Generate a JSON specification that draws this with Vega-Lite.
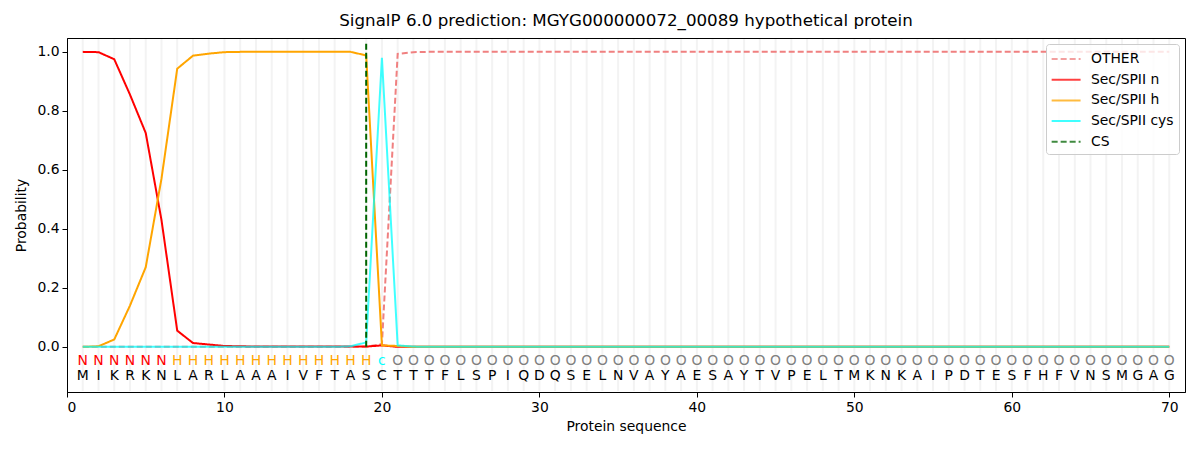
{
  "$schema": "https://vega.github.io/schema/vega-lite/v6.json",
  "width": 1118,
  "height": 354,
  "autosize": "none",
  "padding": {"left": 67, "top": 38, "right": 15, "bottom": 58},
  "config": {
    "font": "DejaVu Sans",
    "view": {"stroke": "black", "strokeWidth": 1},
    "axis": {
      "labelFont": "DejaVu Sans", "labelFontSize": 13.9, "labelColor": "black",
      "titleFont": "DejaVu Sans", "titleFontSize": 13.9, "titleFontWeight": "normal", "titleColor": "black",
      "domainColor": "black", "tickColor": "black", "tickSize": 5, "grid": false
    }
  },
  "title": {
    "text": "SignalP 6.0 prediction: MGYG000000072_00089 hypothetical protein",
    "fontSize": 16.7, "fontWeight": "normal", "font": "DejaVu Sans", "color": "black", "offset": 7
  },
  "data": {
    "values": [
      {"pos": 1, "aa": "M", "state": "N", "OTHER": 0, "Sec/SPII n": 1.0, "Sec/SPII h": 0, "Sec/SPII cys": 0},
      {"pos": 2, "aa": "I", "state": "N", "OTHER": 0, "Sec/SPII n": 0.999, "Sec/SPII h": 0.002, "Sec/SPII cys": 0},
      {"pos": 3, "aa": "K", "state": "N", "OTHER": 0, "Sec/SPII n": 0.975, "Sec/SPII h": 0.025, "Sec/SPII cys": 0},
      {"pos": 4, "aa": "R", "state": "N", "OTHER": 0, "Sec/SPII n": 0.855, "Sec/SPII h": 0.14, "Sec/SPII cys": 0},
      {"pos": 5, "aa": "K", "state": "N", "OTHER": 0, "Sec/SPII n": 0.725, "Sec/SPII h": 0.27, "Sec/SPII cys": 0},
      {"pos": 6, "aa": "N", "state": "N", "OTHER": 0, "Sec/SPII n": 0.43, "Sec/SPII h": 0.57, "Sec/SPII cys": 0},
      {"pos": 7, "aa": "L", "state": "H", "OTHER": 0, "Sec/SPII n": 0.055, "Sec/SPII h": 0.943, "Sec/SPII cys": 0},
      {"pos": 8, "aa": "A", "state": "H", "OTHER": 0, "Sec/SPII n": 0.013, "Sec/SPII h": 0.987, "Sec/SPII cys": 0},
      {"pos": 9, "aa": "R", "state": "H", "OTHER": 0, "Sec/SPII n": 0.008, "Sec/SPII h": 0.994, "Sec/SPII cys": 0},
      {"pos": 10, "aa": "L", "state": "H", "OTHER": 0, "Sec/SPII n": 0.003, "Sec/SPII h": 0.999, "Sec/SPII cys": 0},
      {"pos": 11, "aa": "A", "state": "H", "OTHER": 0, "Sec/SPII n": 0.002, "Sec/SPII h": 1.0, "Sec/SPII cys": 0},
      {"pos": 12, "aa": "A", "state": "H", "OTHER": 0, "Sec/SPII n": 0.001, "Sec/SPII h": 1.0, "Sec/SPII cys": 0},
      {"pos": 13, "aa": "A", "state": "H", "OTHER": 0, "Sec/SPII n": 0.001, "Sec/SPII h": 1.0, "Sec/SPII cys": 0},
      {"pos": 14, "aa": "I", "state": "H", "OTHER": 0, "Sec/SPII n": 0.001, "Sec/SPII h": 1.0, "Sec/SPII cys": 0},
      {"pos": 15, "aa": "V", "state": "H", "OTHER": 0, "Sec/SPII n": 0.001, "Sec/SPII h": 1.0, "Sec/SPII cys": 0},
      {"pos": 16, "aa": "F", "state": "H", "OTHER": 0, "Sec/SPII n": 0.001, "Sec/SPII h": 1.0, "Sec/SPII cys": 0},
      {"pos": 17, "aa": "T", "state": "H", "OTHER": 0, "Sec/SPII n": 0.001, "Sec/SPII h": 1.0, "Sec/SPII cys": 0},
      {"pos": 18, "aa": "A", "state": "H", "OTHER": 0, "Sec/SPII n": 0.001, "Sec/SPII h": 1.0, "Sec/SPII cys": 0.002},
      {"pos": 19, "aa": "S", "state": "H", "OTHER": 0, "Sec/SPII n": 0.001, "Sec/SPII h": 0.988, "Sec/SPII cys": 0.015},
      {"pos": 20, "aa": "C", "state": "c", "OTHER": 0.01, "Sec/SPII n": 0.005, "Sec/SPII h": 0.005, "Sec/SPII cys": 0.98},
      {"pos": 21, "aa": "T", "state": "O", "OTHER": 0.993, "Sec/SPII n": 0, "Sec/SPII h": 0.003, "Sec/SPII cys": 0.005},
      {"pos": 22, "aa": "T", "state": "O", "OTHER": 0.999, "Sec/SPII n": 0, "Sec/SPII h": 0, "Sec/SPII cys": 0.001},
      {"pos": 23, "aa": "T", "state": "O", "OTHER": 1.0, "Sec/SPII n": 0, "Sec/SPII h": 0, "Sec/SPII cys": 0},
      {"pos": 24, "aa": "F", "state": "O", "OTHER": 1.0, "Sec/SPII n": 0, "Sec/SPII h": 0, "Sec/SPII cys": 0},
      {"pos": 25, "aa": "L", "state": "O", "OTHER": 1.0, "Sec/SPII n": 0, "Sec/SPII h": 0, "Sec/SPII cys": 0},
      {"pos": 26, "aa": "S", "state": "O", "OTHER": 1.0, "Sec/SPII n": 0, "Sec/SPII h": 0, "Sec/SPII cys": 0},
      {"pos": 27, "aa": "P", "state": "O", "OTHER": 1.0, "Sec/SPII n": 0, "Sec/SPII h": 0, "Sec/SPII cys": 0},
      {"pos": 28, "aa": "I", "state": "O", "OTHER": 1.0, "Sec/SPII n": 0, "Sec/SPII h": 0, "Sec/SPII cys": 0},
      {"pos": 29, "aa": "Q", "state": "O", "OTHER": 1.0, "Sec/SPII n": 0, "Sec/SPII h": 0, "Sec/SPII cys": 0},
      {"pos": 30, "aa": "D", "state": "O", "OTHER": 1.0, "Sec/SPII n": 0, "Sec/SPII h": 0, "Sec/SPII cys": 0},
      {"pos": 31, "aa": "Q", "state": "O", "OTHER": 1.0, "Sec/SPII n": 0, "Sec/SPII h": 0, "Sec/SPII cys": 0},
      {"pos": 32, "aa": "S", "state": "O", "OTHER": 1.0, "Sec/SPII n": 0, "Sec/SPII h": 0, "Sec/SPII cys": 0},
      {"pos": 33, "aa": "E", "state": "O", "OTHER": 1.0, "Sec/SPII n": 0, "Sec/SPII h": 0, "Sec/SPII cys": 0},
      {"pos": 34, "aa": "L", "state": "O", "OTHER": 1.0, "Sec/SPII n": 0, "Sec/SPII h": 0, "Sec/SPII cys": 0},
      {"pos": 35, "aa": "N", "state": "O", "OTHER": 1.0, "Sec/SPII n": 0, "Sec/SPII h": 0, "Sec/SPII cys": 0},
      {"pos": 36, "aa": "V", "state": "O", "OTHER": 1.0, "Sec/SPII n": 0, "Sec/SPII h": 0, "Sec/SPII cys": 0},
      {"pos": 37, "aa": "A", "state": "O", "OTHER": 1.0, "Sec/SPII n": 0, "Sec/SPII h": 0, "Sec/SPII cys": 0},
      {"pos": 38, "aa": "Y", "state": "O", "OTHER": 1.0, "Sec/SPII n": 0, "Sec/SPII h": 0, "Sec/SPII cys": 0},
      {"pos": 39, "aa": "A", "state": "O", "OTHER": 1.0, "Sec/SPII n": 0, "Sec/SPII h": 0, "Sec/SPII cys": 0},
      {"pos": 40, "aa": "E", "state": "O", "OTHER": 1.0, "Sec/SPII n": 0, "Sec/SPII h": 0, "Sec/SPII cys": 0},
      {"pos": 41, "aa": "S", "state": "O", "OTHER": 1.0, "Sec/SPII n": 0, "Sec/SPII h": 0, "Sec/SPII cys": 0},
      {"pos": 42, "aa": "A", "state": "O", "OTHER": 1.0, "Sec/SPII n": 0, "Sec/SPII h": 0, "Sec/SPII cys": 0},
      {"pos": 43, "aa": "Y", "state": "O", "OTHER": 1.0, "Sec/SPII n": 0, "Sec/SPII h": 0, "Sec/SPII cys": 0},
      {"pos": 44, "aa": "T", "state": "O", "OTHER": 1.0, "Sec/SPII n": 0, "Sec/SPII h": 0, "Sec/SPII cys": 0},
      {"pos": 45, "aa": "V", "state": "O", "OTHER": 1.0, "Sec/SPII n": 0, "Sec/SPII h": 0, "Sec/SPII cys": 0},
      {"pos": 46, "aa": "P", "state": "O", "OTHER": 1.0, "Sec/SPII n": 0, "Sec/SPII h": 0, "Sec/SPII cys": 0},
      {"pos": 47, "aa": "E", "state": "O", "OTHER": 1.0, "Sec/SPII n": 0, "Sec/SPII h": 0, "Sec/SPII cys": 0},
      {"pos": 48, "aa": "L", "state": "O", "OTHER": 1.0, "Sec/SPII n": 0, "Sec/SPII h": 0, "Sec/SPII cys": 0},
      {"pos": 49, "aa": "T", "state": "O", "OTHER": 1.0, "Sec/SPII n": 0, "Sec/SPII h": 0, "Sec/SPII cys": 0},
      {"pos": 50, "aa": "M", "state": "O", "OTHER": 1.0, "Sec/SPII n": 0, "Sec/SPII h": 0, "Sec/SPII cys": 0},
      {"pos": 51, "aa": "K", "state": "O", "OTHER": 1.0, "Sec/SPII n": 0, "Sec/SPII h": 0, "Sec/SPII cys": 0},
      {"pos": 52, "aa": "N", "state": "O", "OTHER": 1.0, "Sec/SPII n": 0, "Sec/SPII h": 0, "Sec/SPII cys": 0},
      {"pos": 53, "aa": "K", "state": "O", "OTHER": 1.0, "Sec/SPII n": 0, "Sec/SPII h": 0, "Sec/SPII cys": 0},
      {"pos": 54, "aa": "A", "state": "O", "OTHER": 1.0, "Sec/SPII n": 0, "Sec/SPII h": 0, "Sec/SPII cys": 0},
      {"pos": 55, "aa": "I", "state": "O", "OTHER": 1.0, "Sec/SPII n": 0, "Sec/SPII h": 0, "Sec/SPII cys": 0},
      {"pos": 56, "aa": "P", "state": "O", "OTHER": 1.0, "Sec/SPII n": 0, "Sec/SPII h": 0, "Sec/SPII cys": 0},
      {"pos": 57, "aa": "D", "state": "O", "OTHER": 1.0, "Sec/SPII n": 0, "Sec/SPII h": 0, "Sec/SPII cys": 0},
      {"pos": 58, "aa": "T", "state": "O", "OTHER": 1.0, "Sec/SPII n": 0, "Sec/SPII h": 0, "Sec/SPII cys": 0},
      {"pos": 59, "aa": "E", "state": "O", "OTHER": 1.0, "Sec/SPII n": 0, "Sec/SPII h": 0, "Sec/SPII cys": 0},
      {"pos": 60, "aa": "S", "state": "O", "OTHER": 1.0, "Sec/SPII n": 0, "Sec/SPII h": 0, "Sec/SPII cys": 0},
      {"pos": 61, "aa": "F", "state": "O", "OTHER": 1.0, "Sec/SPII n": 0, "Sec/SPII h": 0, "Sec/SPII cys": 0},
      {"pos": 62, "aa": "H", "state": "O", "OTHER": 1.0, "Sec/SPII n": 0, "Sec/SPII h": 0, "Sec/SPII cys": 0},
      {"pos": 63, "aa": "F", "state": "O", "OTHER": 1.0, "Sec/SPII n": 0, "Sec/SPII h": 0, "Sec/SPII cys": 0},
      {"pos": 64, "aa": "V", "state": "O", "OTHER": 1.0, "Sec/SPII n": 0, "Sec/SPII h": 0, "Sec/SPII cys": 0},
      {"pos": 65, "aa": "N", "state": "O", "OTHER": 1.0, "Sec/SPII n": 0, "Sec/SPII h": 0, "Sec/SPII cys": 0},
      {"pos": 66, "aa": "S", "state": "O", "OTHER": 1.0, "Sec/SPII n": 0, "Sec/SPII h": 0, "Sec/SPII cys": 0},
      {"pos": 67, "aa": "M", "state": "O", "OTHER": 1.0, "Sec/SPII n": 0, "Sec/SPII h": 0, "Sec/SPII cys": 0},
      {"pos": 68, "aa": "G", "state": "O", "OTHER": 1.0, "Sec/SPII n": 0, "Sec/SPII h": 0, "Sec/SPII cys": 0},
      {"pos": 69, "aa": "A", "state": "O", "OTHER": 1.0, "Sec/SPII n": 0, "Sec/SPII h": 0, "Sec/SPII cys": 0},
      {"pos": 70, "aa": "G", "state": "O", "OTHER": 1.0, "Sec/SPII n": 0, "Sec/SPII h": 0, "Sec/SPII cys": 0}
    ]
  },
  "layer": [
    {
      "mark": {"type": "rule", "color": "#f3f3f3", "strokeWidth": 2},
      "encoding": {
        "x": {"field": "pos", "type": "quantitative", "scale": {"domain": [0, 71], "nice": false, "zero": false}},
        "y": {"datum": -0.15, "type": "quantitative", "scale": {"domain": [-0.153, 1.047], "nice": false, "zero": false}},
        "y2": {"datum": 1.044}
      }
    },
    {
      "transform": [
        {"fold": ["OTHER", "Sec/SPII n", "Sec/SPII h"], "as": ["series", "p"]}
      ],
      "mark": {"type": "line", "strokeWidth": 2},
      "encoding": {
        "x": {
          "field": "pos", "type": "quantitative",
          "scale": {"domain": [0, 71], "nice": false, "zero": false},
          "axis": {"values": [0, 10, 20, 30, 40, 50, 60, 70], "title": "Protein sequence", "titlePadding": 6, "labelPadding": 3}
        },
        "y": {
          "field": "p", "type": "quantitative",
          "scale": {"domain": [-0.153, 1.047], "nice": false, "zero": false},
          "axis": {"values": [0, 0.2, 0.4, 0.6, 0.8, 1.0], "format": ".1f", "title": "Probability", "titlePadding": 8, "labelPadding": 3}
        },
        "color": {
          "field": "series", "type": "nominal",
          "scale": {
            "domain": ["OTHER", "Sec/SPII n", "Sec/SPII h", "Sec/SPII cys", "CS"],
            "range": ["#f08080", "#ff0000", "#ffa500", "#00ffff", "#006400"]
          },
          "legend": {
            "title": null, "orient": "none", "legendX": 979, "legendY": 6,
            "symbolType": "M-1.08,0H2.26", "symbolSize": 300, "symbolStrokeWidth": 2, "symbolOpacity": 1,
            "labelFontSize": 13.9, "labelFont": "DejaVu Sans", "labelColor": "black",
            "rowPadding": 3.7, "padding": 5, "fillColor": "rgba(255,255,255,0.8)",
            "strokeColor": "#cccccc", "cornerRadius": 3, "labelOffset": 20
          }
        },
        "strokeDash": {
          "field": "series", "type": "nominal",
          "scale": {
            "domain": ["OTHER", "Sec/SPII n", "Sec/SPII h", "Sec/SPII cys", "CS"],
            "range": [[6, 3], [1, 0], [1, 0], [1, 0], [6, 3]]
          },
          "legend": {
            "title": null, "orient": "none", "legendX": 979, "legendY": 6,
            "symbolType": "M-1.08,0H2.26", "symbolSize": 300, "symbolStrokeWidth": 2, "symbolOpacity": 1,
            "labelFontSize": 13.9, "labelFont": "DejaVu Sans", "labelColor": "black",
            "rowPadding": 3.7, "padding": 5, "fillColor": "rgba(255,255,255,0.8)",
            "strokeColor": "#cccccc", "cornerRadius": 3, "labelOffset": 20
          }
        }
      }
    },
    {
      "transform": [
        {"fold": ["Sec/SPII cys"], "as": ["series", "p"]}
      ],
      "mark": {"type": "line", "strokeWidth": 2, "opacity": 0.75},
      "encoding": {
        "x": {"field": "pos", "type": "quantitative"},
        "y": {"field": "p", "type": "quantitative"},
        "color": {"field": "series", "type": "nominal"},
        "strokeDash": {"field": "series", "type": "nominal"}
      }
    },
    {
      "data": {"values": [{"pos": 19, "p": 0, "series": "CS"}, {"pos": 19, "p": 1.038, "series": "CS"}]},
      "mark": {"type": "line", "strokeWidth": 2},
      "encoding": {
        "x": {"field": "pos", "type": "quantitative"},
        "y": {"field": "p", "type": "quantitative"},
        "color": {"field": "series", "type": "nominal"},
        "strokeDash": {"field": "series", "type": "nominal"}
      }
    },
    {
      "mark": {"type": "text", "font": "DejaVu Sans", "fontSize": 13.9, "baseline": "middle", "align": "center"},
      "encoding": {
        "x": {"field": "pos", "type": "quantitative"},
        "y": {"datum": -0.047},
        "text": {"field": "state"},
        "color": {
          "condition": [
            {"test": "datum.state === 'N'", "value": "#ff0000"},
            {"test": "datum.state === 'H'", "value": "#ffa500"},
            {"test": "datum.state === 'c'", "value": "#00ffff"}
          ],
          "value": "#808080"
        }
      }
    },
    {
      "mark": {"type": "text", "font": "DejaVu Sans", "fontSize": 13.9, "baseline": "middle", "align": "center", "color": "black"},
      "encoding": {
        "x": {"field": "pos", "type": "quantitative"},
        "y": {"datum": -0.098},
        "text": {"field": "aa"}
      }
    }
  ]
}
